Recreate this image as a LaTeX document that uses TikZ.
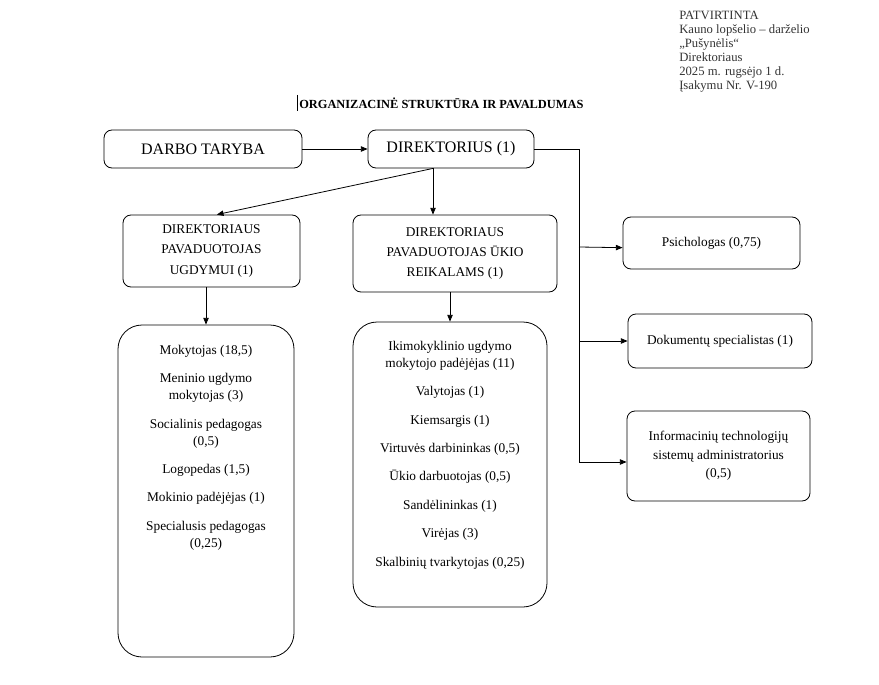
\documentclass[tikz,border=0pt]{standalone}
\usepackage{fontspec}
\setmainfont{Liberation Serif}
\usetikzlibrary{arrows.meta, positioning}

\tikzset{
  unit/.style={draw, rounded corners=6pt, line width=0.6pt, align=center, inner sep=2pt,
    font=\fontsize{10}{15.2}\selectfont},
  listbox/.style={draw, rounded corners=18pt, line width=0.6pt},
  listtext/.style={align=center, inner sep=0pt, font=\fontsize{10}{12.75}\selectfont},
  link/.style={line width=0.6pt, -{Triangle[length=5pt,width=4pt]}},
}

\begin{document}
\begin{tikzpicture}[x=0.75pt, y=-0.75pt]
  \useasboundingbox (0,0) rectangle (879,685);

  % approval note and title
  \node[anchor=north west, inner sep=0pt, align=left, text=black!80,
    font=\fontsize{9.5}{10.5}\selectfont] (approval) at (679,11)
    {PATVIRTINTA\\Kauno lopšelio – darželio\\„Pušynėlis“\\Direktoriaus\\2025 m. rugsėjo 1 d.\\Įsakymu Nr. V-190};
  \draw[line width=0.5pt] (297,95) -- (297,111);
  \node[anchor=west, inner sep=0pt, font=\fontsize{9.3}{11}\selectfont\bfseries] (title) at (299,103)
    {ORGANIZACINĖ STRUKTŪRA IR PAVALDUMAS};

  % top level
  \node[unit, minimum width=148.5pt, minimum height=28.5pt, font=\fontsize{12}{14}\selectfont] (taryba) at (203,149) {DARBO TARYBA};
  \node[unit, minimum width=124.5pt, minimum height=28.5pt, font=\fontsize{12}{14}\selectfont] (direktorius) at (451,149) {DIREKTORIUS (1)};

  % deputies
  \node[unit, minimum width=132.75pt, minimum height=54pt] (ugdymui) at (211.5,251)
    {DIREKTORIAUS\\PAVADUOTOJAS\\UGDYMUI (1)};
  \node[unit, minimum width=153pt, minimum height=57.75pt] (ukio) at (455,253.5)
    {DIREKTORIAUS\\PAVADUOTOJAS ŪKIO\\REIKALAMS (1)};

  % staff lists
  \node[listbox, minimum width=132pt, minimum height=249pt] (mokytojai) at (206,491) {};
  \node[listtext, below=15pt of mokytojai.north] (mokytojailist)
    {Mokytojas (18,5)\\[8.6pt]
     Meninio ugdymo\\mokytojas (3)\\[8.6pt]
     Socialinis pedagogas\\(0,5)\\[8.6pt]
     Logopedas (1,5)\\[8.6pt]
     Mokinio padėjėjas (1)\\[8.6pt]
     Specialusis pedagogas\\(0,25)};

  \node[listbox, minimum width=145.5pt, minimum height=213.75pt] (ukiolist) at (450,464.5) {};
  \node[listtext, below=14.25pt of ukiolist.north] (ukiolisttext)
    {Ikimokyklinio ugdymo\\mokytojo padėjėjas (11)\\[8.6pt]
     Valytojas (1)\\[8.6pt]
     Kiemsargis (1)\\[8.6pt]
     Virtuvės darbininkas (0,5)\\[8.6pt]
     Ūkio darbuotojas (0,5)\\[8.6pt]
     Sandėlininkas (1)\\[8.6pt]
     Virėjas (3)\\[8.6pt]
     Skalbinių tvarkytojas (0,25)};

  % specialists
  \node[unit, minimum width=132.75pt, minimum height=39pt] (psich) at (711.5,243) {Psichologas (0,75)};
  \node[unit, minimum width=138pt, minimum height=40.5pt] (dokum) at (720,341) {Dokumentų specialistas (1)};
  \node[unit, minimum width=137.25pt, minimum height=67.5pt, font=\fontsize{10}{13.9}\selectfont] (itadmin) at (718.5,456)
    {Informacinių technologijų\\sistemų administratorius\\(0,5)};

  % connectors
  \draw[link] (taryba.east) -- (direktorius.west);
  \coordinate (dirout) at ([xshift=-13.5pt]direktorius.south);
  \draw[link] (dirout) -- ([xshift=4pt]ugdymui.north);
  \draw[link] (dirout) -- (dirout |- ukio.north);
  \draw[link] (ugdymui.south -| mokytojai.north) -- (mokytojai.north);
  \draw[link] (ukio.south -| ukiolist.north) -- (ukiolist.north);

  \coordinate (bus) at (579,149);
  \draw[link] (direktorius.east) -- (bus) |- ([yshift=-4.5pt]itadmin.west);
  \draw[link] (bus |- psich.west) ++(0,4) -- ([yshift=-3.5pt]psich.west);
  \draw[link] (bus |- dokum.west) -- (dokum.west);
\end{tikzpicture}
\end{document}
